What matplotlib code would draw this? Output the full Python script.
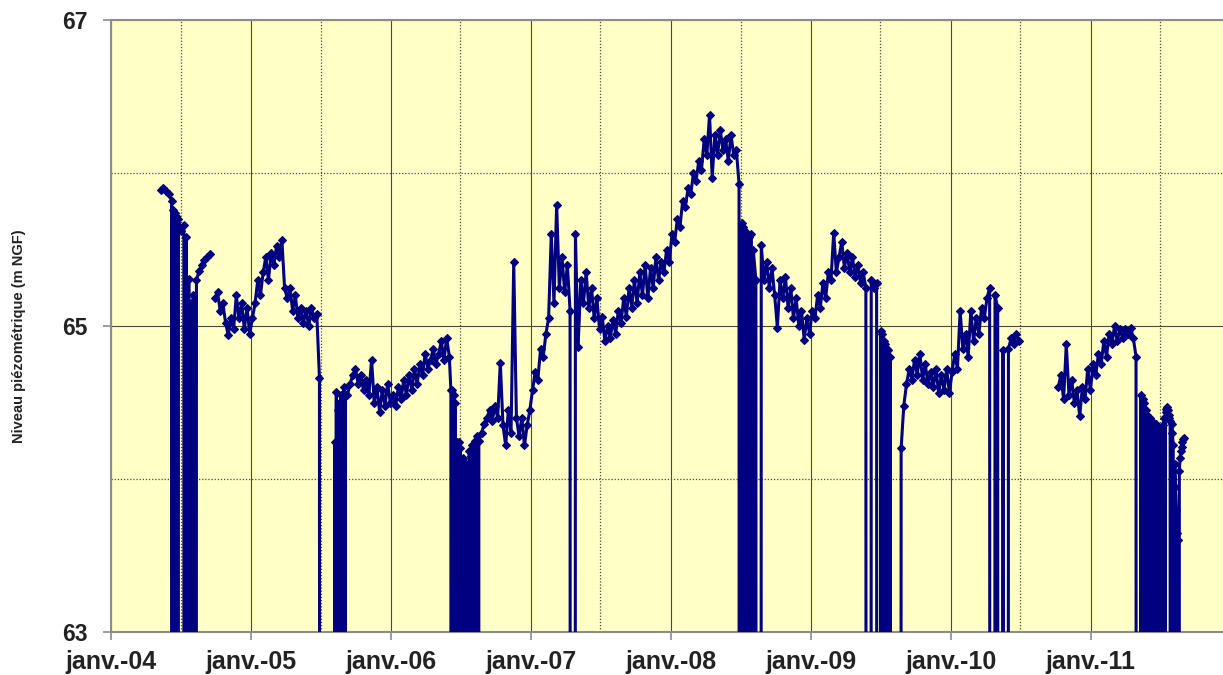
import matplotlib
matplotlib.use('Agg')
import matplotlib.pyplot as plt
import matplotlib.dates as mdates
from matplotlib.ticker import FixedLocator, FuncFormatter
import numpy as np
import pandas as pd

# Piezometric level (m NGF). 0 = sensor drop-out (line falls off the chart)
seg_2004_a1 = [65.89, 65.90, 65.88, 65.86, 65.82]
seg_2004_a2 = [0, 65.76, 0, 65.74, 0, 65.72, 0]
seg_2004_a3 = [65.70, 65.62, 65.66]
seg_2004_a4 = [0, 65.58, 0, 65.31, 0, 65.15, 0, 65.20, 0]
seg_2004_a5 = [65.30, 65.36, 65.40, 65.43, 65.45, 65.47]
seg_2005_b = [65.18, 65.22, 65.10, 65.15, 65.02, 64.94, 65.05, 64.98, 65.20, 65.05,
              65.15, 64.98, 65.12, 64.95, 65.05, 65.15, 65.30, 65.20, 65.35, 65.45,
              65.30, 65.48, 65.40, 65.52, 65.45, 65.56, 65.25, 65.18, 65.25, 65.10,
              65.20, 65.05, 65.12, 65.02, 65.10, 65.00, 65.12, 65.05, 65.08, 64.66, 0]
seg_2005_c1 = [0, 64.24, 0, 64.57, 0, 64.45, 0, 64.50, 0, 64.55, 0, 64.50, 0, 64.60, 0, 64.55]
seg_2006_c2 = [64.55, 64.62, 64.68, 64.72, 64.62, 64.68, 64.58, 64.65, 64.55, 64.78,
               64.50, 64.60, 64.44, 64.58, 64.48, 64.62, 64.50, 64.55, 64.48, 64.60,
               64.52, 64.65, 64.55, 64.68, 64.58, 64.72, 64.62, 64.75, 64.68, 64.82,
               64.72, 64.78, 64.85, 64.75, 64.82, 64.90, 64.78, 64.92, 64.80]
seg_2006_c3 = [64.58, 0, 64.58, 0, 64.55, 0, 64.50, 0, 64.24, 0, 64.24, 0, 64.20, 0, 0, 0,
               64.14, 0, 63.72, 0, 64.10, 0, 63.88, 0, 64.18, 0, 64.15, 0, 64.22, 0,
               64.20, 0, 64.25, 0, 64.28, 0]
seg_2008_c4 = [64.25, 64.30, 64.36, 64.40, 64.45, 64.38, 64.48, 64.40, 64.76, 64.35,
               64.22, 64.45, 64.30, 65.42, 64.40, 64.28, 64.40, 64.22, 64.35, 64.45,
               64.58, 64.70, 64.65, 64.85, 64.80, 64.95, 65.05, 65.60, 65.15, 65.79,
               65.25, 65.45, 65.22, 65.40, 65.10, 0, 65.60, 64.86, 65.30, 65.15,
               65.35, 65.12, 65.25, 65.05, 65.18, 64.98, 65.06, 64.90, 65.00, 64.92,
               65.04, 64.95, 65.10, 65.02, 65.18, 65.06, 65.25, 65.12, 65.30, 65.15,
               65.35, 65.20, 65.40, 65.18, 65.38, 65.25, 65.45, 65.30, 65.42, 65.35,
               65.50, 65.42, 65.60, 65.55, 65.70, 65.65, 65.82, 65.78, 65.90, 65.86,
               66.00, 65.95, 66.08, 66.02, 66.22, 66.12, 66.38, 65.97, 66.25, 66.12,
               66.28, 66.15, 66.22, 66.08, 66.25, 66.12, 66.15, 65.93]
seg_2008_c5 = [0, 65.67, 0, 65.65, 0, 65.62, 0, 65.60, 0, 65.55, 0, 65.58, 0, 65.60, 0]
seg_2009_c6 = [65.50, 65.30, 0, 65.53, 65.30, 65.42, 65.25, 65.38, 65.20, 64.99,
               65.30, 65.18, 65.32, 65.12, 65.25, 65.05, 65.18, 65.00, 65.10, 64.91,
               65.05, 64.95, 65.10, 65.05, 65.20, 65.12, 65.28, 65.18, 65.35, 65.30,
               65.61, 65.35, 65.45, 65.55, 65.38, 65.48, 65.35, 65.45, 65.32, 65.40,
               65.28, 65.35, 65.25, 0, 65.30, 65.25, 65.28, 0]
seg_2009_c7 = [64.97, 0, 64.95, 0, 64.90, 0, 64.88, 0, 64.85, 0, 64.84, 0, 64.80, 0, 0]
seg_2010_c8 = [0, 64.20, 64.48, 64.62, 64.72, 64.65, 64.78, 64.68, 64.82, 64.65,
               64.75, 64.62, 64.70, 64.60, 64.72, 64.56, 64.68, 64.58, 64.72, 64.56,
               64.70, 64.82, 64.72, 65.10, 64.85, 64.95, 64.80, 65.10, 64.90, 65.05,
               64.95, 65.12, 65.05, 65.18, 65.25, 0, 65.20, 65.12, 0, 64.84,
               0, 64.85, 64.92, 64.88, 64.95, 64.90]
seg_2011_d1 = [64.60, 64.68, 64.52, 64.88, 64.55, 64.65, 64.50, 64.58, 64.41, 64.60,
               64.52, 64.72, 64.58, 64.75, 64.68, 64.82, 64.75, 64.90, 64.80, 64.95,
               64.88, 65.00, 64.90, 64.98, 64.92, 64.98, 64.95, 64.99, 64.92, 64.80, 0]
seg_2011_d2 = [0, 64.55, 0, 64.52, 0, 64.50, 0, 64.45, 0, 64.42,
               0, 64.38, 0, 64.40, 0, 64.35, 0, 64.37, 0, 64.32,
               0, 64.36, 0, 64.30, 0, 64.33, 0, 64.28, 0, 64.30,
               64.35, 64.40, 0, 64.44, 64.46, 64.47, 64.45, 64.42, 64.40, 64.38,
               0, 64.36, 64.30, 64.22, 0, 64.10, 63.95, 63.80, 63.65, 63.60,
               0, 64.05, 64.14, 64.18, 64.21, 64.24, 64.26, 64.27]

# (first date, sampling step in days, values, data gap before the block)
blocks = [
    ('2004-05-10', 7, seg_2004_a1, False),
    ('2004-06-09', 2, seg_2004_a2, False),
    ('2004-06-25', 7, seg_2004_a3, False),
    ('2004-07-13', 3, seg_2004_a4, False),
    ('2004-08-11', 7, seg_2004_a5, False),
    ('2004-09-28', 7, seg_2005_b, True),
    ('2005-08-05', 2, seg_2005_c1, False),
    ('2005-09-09', 7, seg_2006_c2, False),
    ('2006-06-06', 2, seg_2006_c3, False),
    ('2006-08-18', 7, seg_2008_c4, False),
    ('2008-07-02', 2, seg_2008_c5, False),
    ('2008-08-03', 7, seg_2009_c6, False),
    ('2009-07-02', 2, seg_2009_c7, False),
    ('2009-08-17', 7, seg_2010_c8, False),
    ('2010-10-08', 7, seg_2011_d1, True),
    ('2011-05-10', 2, seg_2011_d2, False),
]

dates = []
levels = []
for start, step, vals, gap in blocks:
    d = pd.date_range(start, periods=len(vals), freq=f'{step}D')
    if gap and dates:
        dates.append(d[0] - pd.Timedelta(days=1))
        levels.append(np.nan)
    dates.extend(list(d))
    levels.extend(vals)

dates = pd.DatetimeIndex(dates)
levels = np.array(levels, dtype=float)

y_major = [63, 65, 67]
y_minor = [64, 66]

fig = plt.figure(figsize=(12.23, 6.75), dpi=100)
ax = fig.add_axes([111/1223, 1 - 632/675, 1112/1223, 612/675])
ax.set_facecolor('#FFFFC6')

ax.plot(dates, levels, color='#000080', lw=2.2, marker='D', ms=4.2,
        markeredgewidth=0.8, zorder=3)

ax.set_xlim(pd.Timestamp('2004-01-01'), pd.Timestamp('2011-12-12'))
ax.set_ylim(63, 67)

ax.xaxis.set_major_locator(mdates.YearLocator(1, month=1, day=1))
ax.xaxis.set_minor_locator(mdates.MonthLocator(bymonth=7))
ax.xaxis.set_major_formatter(FuncFormatter(
    lambda x, p: 'janv.-' + mdates.num2date(x).strftime('%y')))
ax.yaxis.set_major_locator(FixedLocator(y_major))
ax.yaxis.set_minor_locator(FixedLocator(y_minor))

gcol = '#4a4a3a'
ax.grid(which='major', color=gcol, lw=0.8, ls='-', zorder=1)
ax.grid(which='minor', color=gcol, lw=0.9, ls=(0, (1, 1.5)), zorder=1)
ax.set_axisbelow(True)

for s in ['left', 'bottom', 'top']:
    ax.spines[s].set_color('#8c8c8c')
    ax.spines[s].set_linewidth(1.5)
ax.spines['right'].set_visible(False)

ax.tick_params(axis='both', which='major', direction='out', length=6,
               color='#8c8c8c', width=1.2)
ax.tick_params(axis='both', which='minor', length=0)
ax.tick_params(axis='x', pad=7)
ax.tick_params(axis='y', pad=11)
for lab in ax.get_xticklabels():
    lab.set_fontfamily('Liberation Sans')
    lab.set_fontweight('bold')
    lab.set_fontsize(18)
    lab.set_color('#222222')
for lab in ax.get_yticklabels():
    lab.set_fontfamily('Liberation Sans')
    lab.set_fontweight('bold')
    lab.set_fontsize(16.5)
    lab.set_color('#222222')

fig.text(19/1223, 1 - 336/675, 'Niveau piézométrique (m NGF)', rotation=90,
         ha='center', va='center', fontsize=10.5, fontweight='bold',
         family='Liberation Sans', color='#222222')

fig.savefig('out.png', dpi=100, facecolor='white')
